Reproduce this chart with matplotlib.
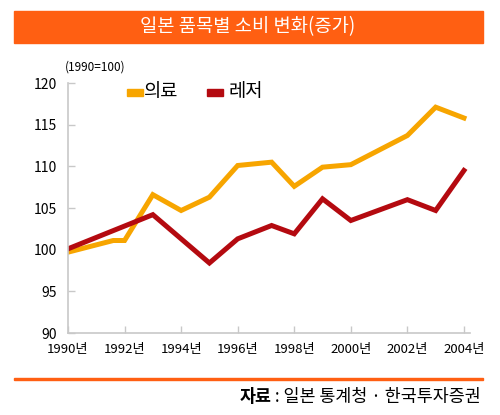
import matplotlib.pyplot as plt
from matplotlib.patches import Rectangle

plt.rcParams['font.family'] = ['Noto Sans CJK KR', 'DejaVu Sans']

# 의료 (medical) index, 1990=100
med_years = [1990, 1991.6, 1992, 1993, 1994, 1995, 1996, 1996.3, 1997.2, 1998, 1999, 2000, 2002, 2003, 2004]
med_vals = [99.7, 101.1, 101.1, 106.6, 104.7, 106.3, 110.1, 110.2, 110.5, 107.6, 109.9, 110.2, 113.7, 117.1, 115.8]

# 레저 (leisure) index
lei_years = [1990, 1993, 1995, 1996, 1997.2, 1998, 1999, 2000, 2002, 2003, 2004]
lei_vals = [100.1, 104.2, 98.4, 101.3, 102.9, 101.9, 106.1, 103.5, 106.0, 104.7, 109.5]

xticks = [1990, 1992, 1994, 1996, 1998, 2000, 2002, 2004]
yticks = [90, 95, 100, 105, 110, 115, 120]

orange = '#F7A500'
red = '#B40A10'
bar = '#FF5F12'

fig = plt.figure(figsize=(5, 4.15), dpi=100)

# title bar
fig.patches.append(Rectangle((14/500, 1 - 43/415), 469/500, 32/415,
                             transform=fig.transFigure, color=bar, zorder=0))
fig.text(248/500, 1 - 27/415, '일본 품목별 소비 변화(증가)', color='white',
         ha='center', va='center', fontsize=13.5, fontweight='medium')

ax = fig.add_axes([68/500, 82/415, 401.6/500, 250/415])
ax.plot(med_years, med_vals, color=orange, lw=3.6, solid_joinstyle='miter')
ax.plot(lei_years, lei_vals, color=red, lw=3.6, solid_joinstyle='miter')

ax.set_xlim(1990, 2004.2)
ax.set_ylim(90, 120)
ax.set_xticks(xticks)
ax.set_xticklabels([str(y) + '년' for y in xticks], fontsize=9.5)
ax.set_yticks(yticks)
ax.set_yticklabels([str(v) for v in yticks], fontsize=10)
ax.tick_params(direction='in', length=5, color='#c8c8c8', width=1)
ax.tick_params(axis='x', pad=7)
ax.tick_params(axis='y', pad=8)
for s in ['top', 'right']:
    ax.spines[s].set_visible(False)
for s in ['left', 'bottom']:
    ax.spines[s].set_color('#c8c8c8')
    ax.spines[s].set_linewidth(1.2)

fig.text(65/500, 1 - 67/415, '(1990=100)', fontsize=8.5, va='center')

# legend
fig.patches.append(Rectangle((127/500, 1 - 96/415), 16/500, 7/415,
                             transform=fig.transFigure, color=orange))
fig.text(144/500, 1 - 92/415, '의료', fontsize=13.5, va='center')
fig.patches.append(Rectangle((207/500, 1 - 96/415), 16/500, 7/415,
                             transform=fig.transFigure, color=red))
fig.text(229/500, 1 - 92/415, '레저', fontsize=13.5, va='center')

# bottom rule and source
fig.patches.append(Rectangle((14/500, 1 - 380/415), 469/500, 2/415,
                             transform=fig.transFigure, color=bar))
src = fig.text(481/500, 1 - 397/415, ' : 일본 통계청 · 한국투자증권', fontsize=12.5,
               ha='right', va='center')
ax.annotate('자료', xy=(0, 0.5), xycoords=src, ha='right', va='center',
            fontsize=12.5, fontweight='bold', annotation_clip=False)

plt.savefig('out.png')
